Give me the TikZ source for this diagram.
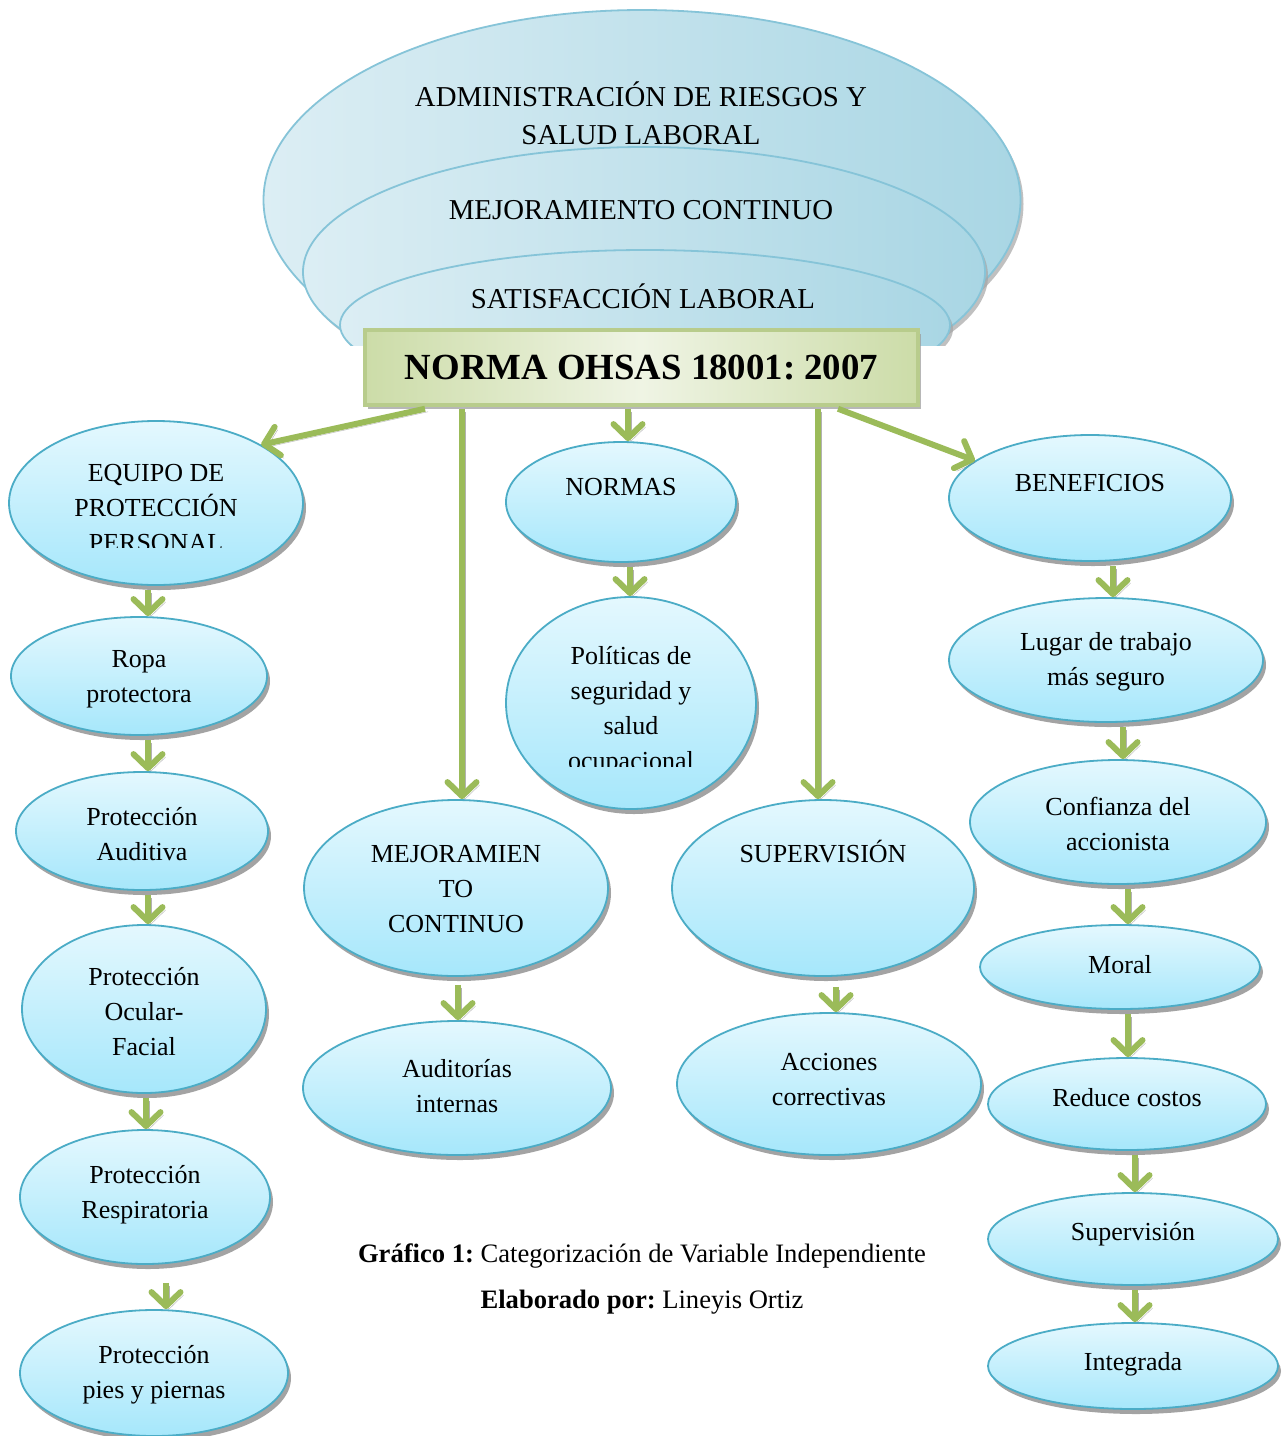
\documentclass[tikz,border=0pt]{standalone}
\usepackage{fontspec}
\setmainfont{Liberation Serif}
\frenchspacing
\usetikzlibrary{arrows.meta,shadows,shapes.geometric}
\definecolor{cyTop}{HTML}{E4F8FE}
\definecolor{cyBot}{HTML}{A6E7FB}
\definecolor{cyLine}{HTML}{4BACC6}
\definecolor{bigL}{HTML}{DCEEF4}
\definecolor{bigR}{HTML}{A9D6E4}
\definecolor{bigLine}{HTML}{86C4D8}
\definecolor{grEdge}{HTML}{CCDCA8}
\definecolor{grMid}{HTML}{EFF4E4}
\definecolor{grLine}{HTML}{B8CC8C}
\definecolor{arrG}{HTML}{9BBB59}
\tikzset{
  ell/.style={ellipse, draw=cyLine, line width=1.8pt, top color=cyTop, bottom color=cyBot,
    inner sep=0pt, drop shadow={shadow xshift=3pt, shadow yshift=-5pt, fill=black!45, opacity=0.8}},
  big/.style={ellipse, draw=bigLine, line width=1.8pt, left color=bigL, right color=bigR,
    inner sep=0pt, drop shadow={shadow xshift=3pt, shadow yshift=-4pt, fill=black!35, opacity=0.7}},
  txt/.style={align=center, inner sep=0pt, font=\fontsize{26}{35}\selectfont},
  captxt/.style={align=center, inner sep=0pt, font=\fontsize{26.6}{35}\selectfont},
  toptxt/.style={align=center, inner sep=0pt, font=\fontsize{28.8}{38}\selectfont},
  garrow/.style={draw=arrG, line width=6pt, -{Straight Barb[length=14pt,width=29pt,round]},
    preaction={draw=black!55, opacity=0.55, transform canvas={shift={(3pt,-3pt)}}}},
}
\begin{document}
\begin{tikzpicture}[x=1pt,y=-1pt]
\useasboundingbox (0,0) rectangle (1288,1436);
\fill[white] (0,0) rectangle (1288,1436);

% top nested ellipses
\begin{scope}
\clip (0,0) rectangle (1288,345);
\node[big, minimum width=757, minimum height=380] (out) at (642,200) {};
\node[big, minimum width=682, minimum height=250] (mid) at (644,272) {};
\node[big, minimum width=610, minimum height=150] (inn) at (645,325) {};
\end{scope}
\node[toptxt] (t1) at (641,113) {ADMINISTRACIÓN DE RIESGOS Y\\SALUD LABORAL};
\node[toptxt] (t2) at (641,210) {MEJORAMIENTO CONTINUO};
\node[toptxt] (t3) at (643,296) {SATISFACCIÓN LABORAL};

% title box
\node[rectangle, draw=grLine, line width=3.5pt, left color=grEdge, right color=grEdge, middle color=grMid,
  minimum width=553, minimum height=75, inner sep=0pt,
  drop shadow={shadow xshift=3pt, shadow yshift=-4pt, fill=black!40, opacity=0.7},
  font=\fontsize{36.8}{40}\selectfont\bfseries] (norma) at (641.5,367.5) {NORMA OHSAS 18001: 2007};

% left column
\node[ell, minimum width=294, minimum height=164] (epp) at (156,503) {};
\begin{scope}
\clip (0,440) rectangle (320,547);
\node[txt] (eppt) at (156,508) {EQUIPO DE\\PROTECCIÓN\\PERSONAL};
\end{scope}
\node[ell, minimum width=256, minimum height=118] (ropa) at (139,676) {};
\node[txt] at (139,679) {Ropa\\protectora};
\node[ell, minimum width=252, minimum height=118] (aud) at (142,831) {};
\node[txt] at (142,834) {Protección\\Auditiva};
\node[ell, minimum width=244, minimum height=168] (ocu) at (144,1009) {};
\node[txt] at (144,1012) {Protección\\Ocular-\\Facial};
\node[ell, minimum width=250, minimum height=134] (resp) at (145,1197) {};
\node[txt] at (145,1195) {Protección\\Respiratoria};
\node[ell, minimum width=268, minimum height=126] (pies) at (154,1373) {};
\node[txt] at (154,1375) {Protección\\pies y piernas};

% column 2
\node[ell, minimum width=304, minimum height=176] (mej) at (456,888) {};
\node[txt] at (456,889) {MEJORAMIEN\\TO\\CONTINUO};
\node[ell, minimum width=308, minimum height=134] (audi) at (457,1088) {};
\node[txt] at (457,1086) {Auditorías\\internas};

% column 3
\node[ell, minimum width=230, minimum height=120] (normas) at (621,502) {};
\node[txt] at (621,487) {NORMAS};
\node[ell, minimum width=250, minimum height=212] (pol) at (631,703) {};
\begin{scope}
\clip (500,620) rectangle (760,766);
\node[txt] at (631,711) {Políticas de\\seguridad y\\salud\\ocupacional};
\end{scope}

% column 4
\node[ell, minimum width=302, minimum height=176] (sup) at (823,888) {};
\node[txt] at (823,852) {SUPERVISIÓN};
\node[ell, minimum width=304, minimum height=142] (acc) at (829,1084) {};
\node[txt] at (829,1080) {Acciones\\correctivas};

% column 5
\node[ell, minimum width=282, minimum height=126] (ben) at (1090,498) {};
\node[txt] at (1090,483) {BENEFICIOS};
\node[ell, minimum width=314, minimum height=124] (lug) at (1106,660) {};
\node[txt] at (1106,662) {Lugar de trabajo\\más seguro};
\node[ell, minimum width=296, minimum height=124] (conf) at (1118,822) {};
\node[txt] at (1118,824) {Confianza del\\accionista};
\node[ell, minimum width=280, minimum height=84] (mor) at (1120,967) {};
\node[txt] at (1120,965) {Moral};
\node[ell, minimum width=278, minimum height=92] (red) at (1127,1104) {};
\node[txt] at (1127,1098) {Reduce costos};
\node[ell, minimum width=290, minimum height=92] (sv) at (1133,1239) {};
\node[txt] at (1133,1234) {Supervisión};
\node[ell, minimum width=290, minimum height=86] (integ) at (1133,1366) {};
\node[txt] at (1133,1364) {Integrada};

% caption
\node[captxt] (cap1) at (642,1256) {\textbf{Gráfico 1:} Categorización de Variable Independiente};
\node[captxt] (cap2) at (642,1302) {\textbf{Elaborado por:} Lineyis Ortiz};

% arrows from the title box
\draw[garrow] ([shift={(-216.5,2)}]norma.south) -- (epp.29);
\draw[garrow] ([shift={(-179.5,2)}]norma.south) -- ([shift={(6,0)}]mej.north);
\draw[garrow] ([shift={(-13.5,2)}]norma.south) -- ([shift={(7,0)}]normas.north);
\draw[garrow] ([shift={(176.5,2)}]norma.south) -- ([shift={(-5,0)}]sup.north);
\draw[garrow] ([shift={(196.5,2)}]norma.south) -- (ben.162);

% left column arrows
\draw[garrow] ([shift={(-8,4)}]epp.south) -- ([shift={(9,0)}]ropa.north);
\draw[garrow] ([shift={(9,4)}]ropa.south) -- ([shift={(6,0)}]aud.north);
\draw[garrow] ([shift={(6,4)}]aud.south) -- ([shift={(4,0)}]ocu.north);
\draw[garrow] ([shift={(2,4)}]ocu.south) -- ([shift={(1,0)}]resp.north);
\draw[garrow] ([shift={(21,18)}]resp.south) -- ([shift={(12,0)}]pies.north);
% column 2-4 arrows
\draw[garrow] ([shift={(2,8)}]mej.south) -- ([shift={(1,0)}]audi.north);
\draw[garrow] ([shift={(9,4)}]normas.south) -- ([shift={(-1,0)}]pol.north);
\draw[garrow] ([shift={(13,10)}]sup.south) -- ([shift={(7,0)}]acc.north);
% column 5 arrows
\draw[garrow] ([shift={(23,4)}]ben.south) -- ([shift={(7,0)}]lug.north);
\draw[garrow] ([shift={(17,4)}]lug.south) -- ([shift={(5,0)}]conf.north);
\draw[garrow] ([shift={(10,4)}]conf.south) -- ([shift={(8,0)}]mor.north);
\draw[garrow] ([shift={(8,4)}]mor.south) -- ([shift={(1,0)}]red.north);
\draw[garrow] ([shift={(8,4)}]red.south) -- ([shift={(2,0)}]sv.north);
\draw[garrow] ([shift={(2,4)}]sv.south) -- ([shift={(2,0)}]integ.north);
\end{tikzpicture}
\end{document}
